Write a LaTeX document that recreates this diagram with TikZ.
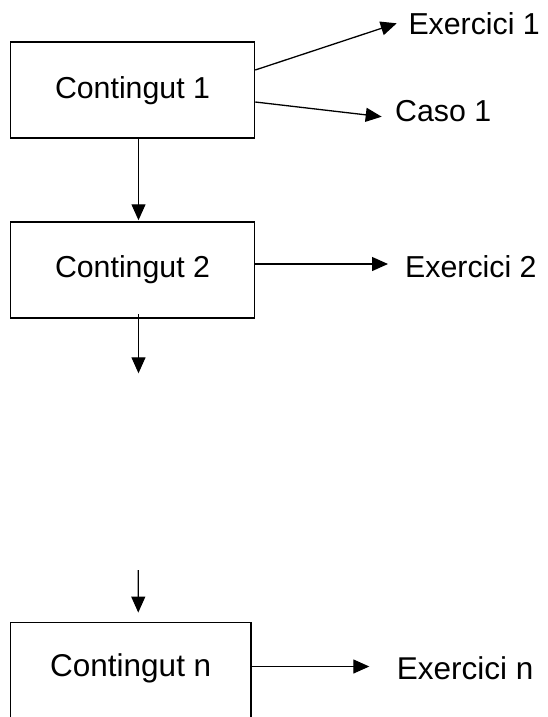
\documentclass[tikz,border=0pt]{standalone}
\usepackage{fontspec}
\setmainfont{Liberation Sans}
\usetikzlibrary{arrows.meta,calc}
\begin{document}
\begin{tikzpicture}[x=1pt,y=-1pt,
  fa/.style={font=\fontsize{30.3}{36}\selectfont,text height=21.7pt,text depth=0pt},
  fb/.style={font=\fontsize{31.5}{38}\selectfont,text height=22.6pt,text depth=0pt},
  box/.style={draw,line width=1.5pt,rectangle,minimum width=244pt,minimum height=96pt,inner sep=0pt},
  lbl/.style={anchor=west,inner sep=0pt},
  link/.style={line width=1.3pt,-{Triangle[length=16pt,width=14pt]}}]
\useasboundingbox (0,0) rectangle (547,717);
\clip (0,0) rectangle (547,717);

% content boxes
\node[box,fa,text depth=5pt] (c1) at (132.5,90) {Contingut 1\hspace{16pt}};
\node[box,fa,text depth=6pt] (c2) at (132.5,270) {Contingut 2\hspace{16pt}};
\node[box,fb,minimum width=240.5pt,text depth=10pt] (cn) at (130.75,670.3) {Contingut n\hspace{7pt}};

% side labels
\node[lbl,fa] (e1) at (408.3,24) {Exercici 1};
\node[lbl,fa] (k1) at (395,111) {Caso 1};
\node[lbl,fa] (e2) at (405,267) {Exercici 2};
\node[lbl,fb] (en) at (396.7,668) {Exercici n};

% free ends of the vertical flow
\coordinate (d2) at (138.5,373.3);
\coordinate (dn) at (138.3,570);

% side arrows
\draw[link] ($(c1.east)+(0,-20)$) -- ($(e1.west)+(-11.6,-0.7)$);
\draw[link] ($(c1.east)+(0,12)$) -- ($(k1.west)+(-13.3,5.7)$);
\draw[link] ($(c2.east)+(0,-6)$) -- ($(e2.west)+(-17,-3)$);
\draw[link] ($(cn.east)+(0,-3.8)$) -- ($(en.west)+(-27.4,-1.5)$);

% vertical arrows
\draw[link] ($(c1.south)+(6,0)$) -- ($(c2.north)+(6,-1)$);
\draw[link] ($(c2.south)+(6,-4.3)$) -- (d2);
\draw[link] (dn) -- ($(cn.north)+(7.5,-9)$);
\end{tikzpicture}
\end{document}
